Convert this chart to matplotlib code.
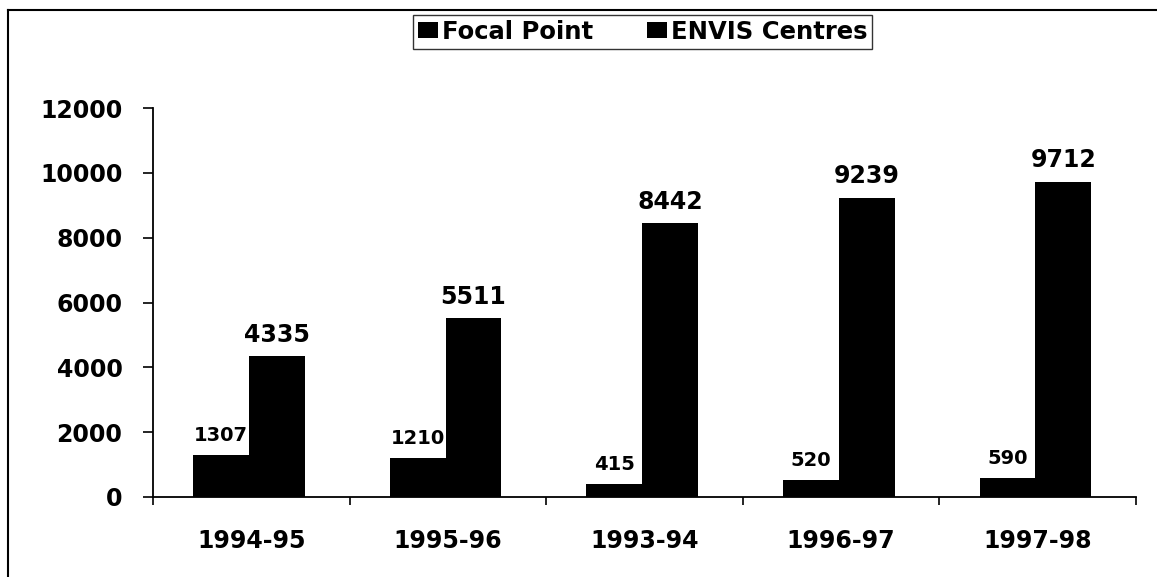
import matplotlib
matplotlib.use("Agg")
import matplotlib.pyplot as plt
from matplotlib.lines import Line2D
import numpy as np

categories = ["1994-95", "1995-96", "1993-94", "1996-97", "1997-98"]
focal_point = [1307, 1210, 415, 520, 590]
envis_centres = [4335, 5511, 8442, 9239, 9712]
series_names = ["Focal Point", "ENVIS Centres"]
y_ticks = [0, 2000, 4000, 6000, 8000, 10000, 12000]

plt.rcParams['font.family'] = ['DejaVu Sans']
plt.rcParams['font.weight'] = 'bold'

W, H = 1157, 577
fig = plt.figure(figsize=(W / 100, H / 100), dpi=100)
ax = fig.add_axes([153 / W, 1 - 497 / H, (1136 - 153) / W, (497 - 108) / H])

x = np.arange(len(categories))
bw = 0.284
off = -0.012
b1 = ax.bar(x + off - bw / 2, focal_point, bw, color='black', label=series_names[0])
b2 = ax.bar(x + off + bw / 2, envis_centres, bw, color='black', label=series_names[1])

for rect, v in zip(b1, focal_point):
    ax.annotate(f"{v}", (rect.get_x() + rect.get_width() / 2, v), xytext=(0, 7),
                textcoords='offset points', ha='center', va='bottom',
                fontsize=14, fontweight='bold')
for rect, v in zip(b2, envis_centres):
    ax.annotate(f"{v}", (rect.get_x() + rect.get_width() / 2, v), xytext=(0, 7),
                textcoords='offset points', ha='center', va='bottom',
                fontsize=17, fontweight='bold')

ax.set_xlim(-0.5, len(categories) - 0.5)
ax.set_ylim(0, 12000)
ax.set_yticks(y_ticks)
ax.set_yticklabels([str(t) for t in y_ticks], fontsize=17, fontweight='bold')
ax.tick_params(axis='y', length=7, width=1.2, pad=15, direction='out')

ax.set_xticks(x)
ax.set_xticklabels(categories, fontsize=17, fontweight='bold')
ax.set_xticks(np.arange(len(categories) + 1) - 0.5, minor=True)
ax.tick_params(axis='x', which='major', length=0, pad=23)
ax.tick_params(axis='x', which='minor', length=6, width=1.2, direction='out')

for s in ['top', 'right']:
    ax.spines[s].set_visible(False)
for s in ['left', 'bottom']:
    ax.spines[s].set_linewidth(1.3)
    ax.spines[s].set_color('black')

leg = fig.legend(handles=[b1, b2], labels=series_names, loc='upper center',
                 bbox_to_anchor=(642.5 / W, 1 - 15 / H),
                 ncol=2, frameon=True, fancybox=False, edgecolor='black',
                 handlelength=0.85, handleheight=0.65, handletextpad=0.15,
                 columnspacing=2.2, borderpad=0.2, borderaxespad=0,
                 prop={'size': 17.5, 'weight': 'bold'})
leg.get_frame().set_linewidth(1.0)

fig.add_artist(Line2D([8 / W, 8 / W], [0, 1 - 10 / H], transform=fig.transFigure,
                      color='black', lw=1.5))
fig.add_artist(Line2D([8 / W, 1], [1 - 10 / H, 1 - 10 / H], transform=fig.transFigure,
                      color='black', lw=1.5))

fig.savefig("out.png", dpi=100)
